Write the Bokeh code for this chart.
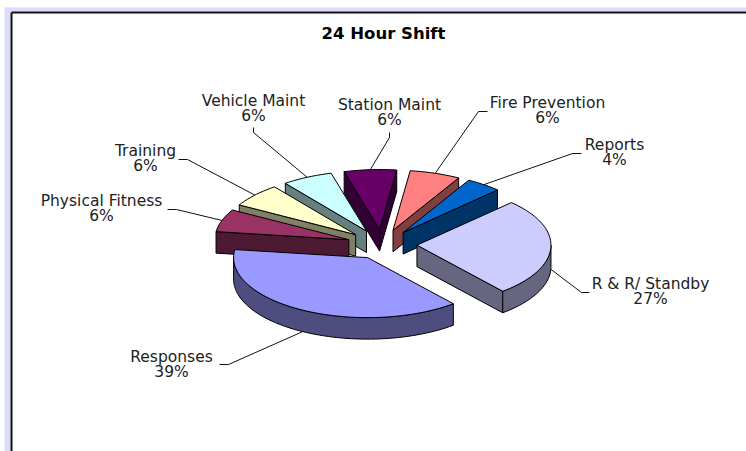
import math
from bokeh.plotting import figure
from bokeh.models import ColumnDataSource, Range1d
from bokeh.core.properties import value
from bokeh.embed import file_html
from bokeh.resources import INLINE

# ---- data, clockwise from the top of R & R / Standby ----
categories = ["R & R/ Standby", "Responses", "Physical Fitness", "Training",
              "Vehicle Maint", "Station Maint", "Fire Prevention", "Reports"]
shares = [26.5, 38.2, 6.1, 6.4, 6.1, 6.3, 6.1, 4.3]
percent_labels = ["27%", "39%", "6%", "6%", "6%", "6%", "6%", "4%"]
title_text = "24 Hour Shift"

# ---- styles ----
top_colors = ["#CCCCFF", "#9999FF", "#993366", "#FFFFCC", "#CCFFFF", "#660066", "#FF8080", "#0066CC"]
side_colors = ["#666680", "#4D4D80", "#4D1A33", "#808066", "#668080", "#330033", "#804040", "#003366"]

# ---- projection of the tilted, exploded pie (page pixels) ----
START_DEG = 45.2
CX, CY = 381.5, 244.0
RX, RY = 134.0, 60.0
EX, EY = 35.0, 15.0
EXPLODE_X_SCALE = [1, 0.85, 1, 1, 1, 1, 1, 1]  # perspective: front slice swings out less
DEPTH = 21.5
DRAW_ORDER = [5, 4, 3, 2, 6, 7, 0, 1]  # back to front

# ---- label layout: centre x, first line y, elbow-start, elbow ----
label_layout = [
    (650, 283, (589, 292), (581, 292)),
    (171, 356, (219, 364), (228, 364)),
    (101, 200, (167, 209), (176, 209)),
    (145, 150, (178, 159), (187, 159)),
    (253, 100, (253, 127), (253, 132)),
    (389, 104, (389, 132), (389, 137)),
    (547, 102, (487, 111), (478, 111)),
    (614, 144, (581, 153), (572, 153)),
]
LINE_STEP = 15.5

total = sum(shares)
spans = []
a = START_DEG
for s in shares:
    b = a - 360.0 * s / total
    spans.append((b, a))  # low angle, high angle (degrees)
    a = b


def point(apex, deg, drop=0.0):
    t = math.radians(deg)
    return apex[0] + RX * math.cos(t), apex[1] - RY * math.sin(t) + drop


def arc(apex, lo, hi, drop=0.0, step=2.0):
    n = max(2, int(abs(hi - lo) / step) + 1)
    return [point(apex, lo + (hi - lo) * k / (n - 1), drop) for k in range(n)]


faces_x, faces_y, faces_c = [], [], []


def add_face(pts, color):
    faces_x.append([q[0] for q in pts])
    faces_y.append([q[1] for q in pts])
    faces_c.append(color)


leader_x, leader_y = [], []
apexes = []
for k, (lo, hi) in enumerate(spans):
    mid = math.radians((lo + hi) / 2)
    apexes.append((CX + EX * EXPLODE_X_SCALE[k] * math.cos(mid), CY - EY * math.sin(mid)))

for i in DRAW_ORDER:
    lo, hi = spans[i]
    ap = apexes[i]
    down = (ap[0], ap[1] + DEPTH)
    # radial walls facing the viewer
    if math.cos(math.radians(hi)) < 0:
        p1 = point(ap, hi)
        add_face([ap, p1, (p1[0], p1[1] + DEPTH), down], side_colors[i])
    if math.cos(math.radians(lo)) > 0:
        p1 = point(ap, lo)
        add_face([ap, p1, (p1[0], p1[1] + DEPTH), down], side_colors[i])
    # outer rim: only the part on the front half of the ellipse
    for wrap in (0, -360, 360):
        f0, f1 = max(lo + wrap, -180.0), min(hi + wrap, 0.0)
        if f1 > f0:
            add_face(arc(ap, f0, f1) + arc(ap, f1, f0, DEPTH), side_colors[i])
    # top face
    add_face([ap] + arc(ap, lo, hi), top_colors[i])

for i, (lx, ly, st, el) in enumerate(label_layout):
    lo, hi = spans[i]
    mid = (lo + hi) / 2
    end = point(apexes[i], mid, DEPTH if math.sin(math.radians(mid)) < 0 else 0.0)
    leader_x.append([st[0], el[0], end[0]])
    leader_y.append([st[1], el[1], end[1]])

W, H = 746, 451
p = figure(width=W, height=H, output_backend="svg", toolbar_location=None,
           x_range=Range1d(0, W), y_range=Range1d(H, 0),
           min_border=0, outline_line_color=None, background_fill_color="white")
p.axis.visible = False
p.grid.visible = False

# worksheet frame round the chart
p.quad(left=[4, 4], right=[10, 746], top=[7, 7], bottom=[451, 11],
       fill_color="#DCDCFF", line_color=None)
p.segment(x0=[11, 11], y0=[12, 12], x1=[11, 746], y1=[451, 12], line_color="#111111", line_width=2)

p.multi_line(leader_x, leader_y, line_color="#111111", line_width=1)

src = ColumnDataSource(dict(xs=faces_x, ys=faces_y, c=faces_c))
p.patches("xs", "ys", source=src, fill_color="c", line_color="#000000", line_width=1, line_join="round")

FONT = "DejaVu Sans"
SIZE = "15.5px"
xs_lab = [l[0] for l in label_layout]
p.text(xs_lab, [l[1] for l in label_layout], text=categories, text_font=value(FONT), text_font_size=SIZE,
       text_align="center", text_baseline="middle", text_color="#222222")
p.text(xs_lab, [l[1] + LINE_STEP for l in label_layout], text=percent_labels, text_font=value(FONT),
       text_font_size=SIZE, text_align="center", text_baseline="middle", text_color="#222222")
p.text([383], [33], text=[title_text], text_font=value(FONT), text_font_style="bold", text_font_size="16.5px",
       text_align="center", text_baseline="middle", text_color="#000000")

open("out.html", "w").write(file_html(p, INLINE))
